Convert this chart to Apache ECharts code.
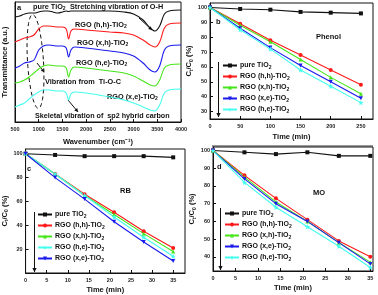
<!DOCTYPE html>
<html><head><meta charset="utf-8">
<script src="https://cdn.jsdelivr.net/npm/echarts@6/dist/echarts.min.js"></script>
<style>html,body{margin:0;padding:0;background:#fff}#c{width:378px;height:295px}</style>
</head><body><div id="c"></div>
<script>
// ---------- Panel a : FTIR ----------
const wavenumbers = [500,600,700,800,900,1000,1100,1200,1300,1400,1500,1580,1630,1680,1750,2000,2500,2800,3000,3200,3350,3450,3550,3650,3750,4000];
const ftirPure = [105,106,108,109,109,110,111,111,110,109,110,111,110.5,111,111,111,111,110,108,102,94,91,96,108,111,112];
const ftirHH   = [80,82,84,85,87,93,96,96,95.5,95,95,93,83,91,93,92,90,89,87,82,77,75,80,94,98,99];
const ftirXH   = [54,56,59,60,62,72,76,77,76.5,76,76,74,65,72,75,74,71,69,66,59,52,50,56,72,76,77];
const ftirHE   = [39,40,42,45,49,53,56,57,56.5,56,56,54,45,52,55,54,51,49,46,41,37,36,42,54,57,58];
const ftirXE   = [15,17,19,23,27,30,32,32,31.5,31,31,29,22,28,30,29,25,22,19,15,12,11,17,29,32,33];
const wnTicks = [500,1000,1500,2000,2500,3000,3500,4000];

// ---------- Panel b : Phenol ----------
const phenolTime = [0,50,100,150,200,250];
const phenolPure = [100,99,98.5,97,96.5,96];
const phenolHH = [100,89,78,68,58,48];
const phenolXH = [100,88,77,65,53,42];
const phenolXE = [100,86,73,61,50,39];
const phenolHE = [100,85,72,58,47,36];
const phenolYTicks = [30,40,50,60,70,80,90,100];

// ---------- Panel c : RB ----------
const rbTime = [0,7,14,21,28,35];
const rbPure = [100,99,98,98,98,97];
const rbHH = [100,83,66,51,35,21];
const rbXH = [100,83,65,49,33,18];
const rbHE = [100,83,65,47,30,14];
const rbXE = [100,80,62,43,26,10];
const rbYTicks = [20,40,60,80,100];

// ---------- Panel d : MO ----------
const moTime = [0,7,14,21,28,35];
const moPure = [100,99,98,99,97,97];
const moHH = [100,86,73,61,49,40];
const moXH = [100,85,71,60,48,37];
const moXE = [100,84,70,60,48,36];
const moHE = [100,82,68,57,46,34];
const moYTicks = [40,50,60,70,80,90,100];
const timeTicks = [0,5,10,15,20,25,30,35];

const NAMES = ['pure TiO2','RGO (h,h)-TiO2','RGO (x,h)-TiO2','RGO (x,e)-TiO2','RGO (h,e)-TiO2'];
const COLORS = {'pure TiO2':'#111111','RGO (h,h)-TiO2':'#ff1a1a','RGO (x,h)-TiO2':'#44e61a','RGO (x,e)-TiO2':'#1a1aee','RGO (h,e)-TiO2':'#44ffee'};
const STAR = 'path://M5,0 L6.2,3.6 L10,3.6 L7,5.9 L8.1,9.5 L5,7.3 L1.9,9.5 L3,5.9 L0,3.6 L3.8,3.6 Z';
const SYMBOLS = {'pure TiO2':'rect','RGO (h,h)-TiO2':'circle','RGO (x,h)-TiO2':'triangle','RGO (x,e)-TiO2':'path://M0,0 L10,0 L5,9 Z','RGO (h,e)-TiO2':STAR};

const FONT = '"Liberation Sans", Arial, sans-serif';
const subRich = {
  n:{fontFamily:FONT,fontWeight:'bold',fontSize:7,color:'#111',lineHeight:9},
  s:{fontFamily:FONT,fontWeight:'bold',fontSize:5,color:'#111',lineHeight:9,verticalAlign:'bottom',padding:[3,0,0,0]}
};
function subText(name){ return name.replace(/TiO2/,'TiO{s|2}').replace(/^([^{]*)/, '{n|$1}').replace(/\{s\|2\}(.*)$/, (m,r)=>'{s|2}'+(r?'{n|'+r+'}':'')); }

function xAxisBase(grid, min, max, ticks, name, gap){
  return {gridIndex:grid,type:'value',min:min,max:max,name:name,nameLocation:'middle',nameGap:gap,
    nameTextStyle:{fontFamily:FONT,fontWeight:'bold',fontSize:7.5,color:'#111'},
    axisLine:{lineStyle:{color:'#111',width:1}},
    axisTick:{inside:true,length:3,customValues:ticks,lineStyle:{color:'#111'}},
    axisLabel:{customValues:ticks,formatter:v=>String(v),fontFamily:FONT,fontWeight:'bold',fontSize:5.5,color:'#222',margin:4},
    splitLine:{show:false}};
}
function yAxisBase(grid, min, max, ticks, name, gap, showLabels){
  return {gridIndex:grid,type:'value',min:min,max:max,name:name,nameLocation:'middle',nameGap:gap,
    nameTextStyle:{fontFamily:FONT,fontWeight:'bold',fontSize:7.5,color:'#111',rich:{
      n:{fontFamily:FONT,fontWeight:'bold',fontSize:7.5,color:'#111'},
      s:{fontFamily:FONT,fontWeight:'bold',fontSize:5,color:'#111',padding:[4,0,0,0]}}},
    axisLine:{lineStyle:{color:'#111',width:1}},
    axisTick:{show:!!ticks,inside:true,length:3,customValues:ticks||undefined,lineStyle:{color:'#111'}},
    axisLabel:{show:showLabels,customValues:ticks||undefined,formatter:v=>String(v),fontFamily:FONT,fontWeight:'bold',fontSize:5.5,color:'#222',margin:3},
    splitLine:{show:false}};
}

const gridStyle = {show:true,borderColor:'#111',borderWidth:1,backgroundColor:'transparent',containLabel:false};
const grids = [
  Object.assign({left:13,top:2,width:168,height:120},gridStyle),
  Object.assign({left:210,top:3,width:163,height:116},gridStyle),
  Object.assign({left:22,top:149,width:163,height:127},gridStyle),
  Object.assign({left:213,top:147,width:160,height:124},gridStyle)
];
const ctName = '{n|C}{s|t}{n|/C}{s|0}{n| (%)}';

const xAxes = [
  xAxisBase(0,500,4000,wnTicks,'Wavenumber (cm⁻¹)',16),
  xAxisBase(1,0,270,[0,50,100,150,200,250],'Time (min)',14),
  xAxisBase(2,0,37.8,timeTicks,'Time (min)',13),
  xAxisBase(3,0,35.6,timeTicks,'Time (min)',13)
];
const yAxes = [
  yAxisBase(0,0,120,null,'Transmittance (a.u.)',6,false),
  yAxisBase(1,25,103,phenolYTicks,ctName,14,true),
  yAxisBase(2,0,104,rbYTicks,ctName,15,true),
  yAxisBase(3,32,102,moYTicks,ctName,15,true)
];

const series = [];
const ftirSets = [[ftirPure,'#111111'],[ftirHH,'#ff1a1a'],[ftirXH,'#1a1aee'],[ftirHE,'#44e61a'],[ftirXE,'#44ffee']];
ftirSets.forEach((s,i)=>{
  series.push({type:'line',name:'ftir'+i,xAxisIndex:0,yAxisIndex:0,showSymbol:false,smooth:0.35,
    lineStyle:{color:s[1],width:1.1},data:wavenumbers.map((w,j)=>[w,s[0][j]]),silent:true});
});
function kin(idx, time, vals, name){
  series.push({type:'line',name:name,xAxisIndex:idx,yAxisIndex:idx,symbol:SYMBOLS[name],symbolSize:name==='RGO (h,e)-TiO2'?5.5:4,
    itemStyle:{color:COLORS[name]},lineStyle:{color:COLORS[name],width:1.1},data:time.map((t,j)=>[t,vals[j]])});
}
kin(1,phenolTime,phenolPure,NAMES[0]);kin(1,phenolTime,phenolHH,NAMES[1]);kin(1,phenolTime,phenolXH,NAMES[2]);kin(1,phenolTime,phenolXE,NAMES[3]);kin(1,phenolTime,phenolHE,NAMES[4]);
kin(2,rbTime,rbPure,NAMES[0]);kin(2,rbTime,rbHH,NAMES[1]);kin(2,rbTime,rbXH,NAMES[2]);kin(2,rbTime,rbHE,NAMES[4]);kin(2,rbTime,rbXE,NAMES[3]);
kin(3,moTime,moPure,NAMES[0]);kin(3,moTime,moHH,NAMES[1]);kin(3,moTime,moXH,NAMES[2]);kin(3,moTime,moXE,NAMES[3]);kin(3,moTime,moHE,NAMES[4]);

function legend(left, top, order){
  return {left:left,top:top,orient:'vertical',itemWidth:14,itemHeight:5,itemGap:3,selectedMode:false,padding:0,
    data:order,formatter:function(n){return subText(n);},
    textStyle:{fontFamily:FONT,fontWeight:'bold',fontSize:7,color:'#111',rich:subRich,padding:[0,0,0,-2]}};
}
const legends = [
  legend(222,62,[NAMES[0],NAMES[1],NAMES[2],NAMES[3],NAMES[4]]),
  legend(37,211,[NAMES[0],NAMES[1],NAMES[2],NAMES[4],NAMES[3]]),
  legend(224,210,[NAMES[0],NAMES[1],NAMES[2],NAMES[3],NAMES[4]])
];

// annotations
function txt(x,y,t,size){ return {type:'text',left:x,top:y,silent:true,style:{text:t,font:'bold '+(size||7)+'px '+FONT,fill:'#111',rich:{
  n:{fontFamily:FONT,fontWeight:'bold',fontSize:size||7,fill:'#111'},
  s:{fontFamily:FONT,fontWeight:'bold',fontSize:5,fill:'#111',padding:[4,0,0,0]}}}}; }
function arrow(x1,y1,x2,y2,hs){
  hs = hs||3.5;
  const a = Math.atan2(y2-y1,x2-x1);
  const p1=[x2-hs*Math.cos(a)+hs*0.55*Math.sin(a), y2-hs*Math.sin(a)-hs*0.55*Math.cos(a)];
  const p2=[x2-hs*Math.cos(a)-hs*0.55*Math.sin(a), y2-hs*Math.sin(a)+hs*0.55*Math.cos(a)];
  return [{type:'line',silent:true,shape:{x1:x1,y1:y1,x2:x2,y2:y2},style:{stroke:'#111',lineWidth:1}},
          {type:'polygon',silent:true,shape:{points:[[x2,y2],p1,p2]},style:{fill:'#111'}}];
}
const ell = [];
for(let k=0;k<=60;k++){const t=k/60*2*Math.PI;const th=0.06;const ax=8,ay=47;
  const ex=ax*Math.cos(t), ey=ay*Math.sin(t);
  ell.push([35.5+ex*Math.cos(th)+ey*Math.sin(th), 61.5+ey*Math.cos(th)]);}
const graphics = [
  txt(17,4,'{n|a}',7.5),
  txt(33,3,'{n|pure TiO}{s|2}',7.3),
  txt(70,3,'{n|Stretching vibration of O-H}',7.3),
  txt(75,21,'{n|RGO (h,h)-TiO}{s|2}',7.3),
  txt(77,39,'{n|RGO (x,h)-TiO}{s|2}',7.3),
  txt(76,59,'{n|RGO (h,e)-TiO}{s|2}',7.3),
  txt(45,78,'{n|Vibration from  Ti-O-C}',7.3),
  txt(107,93,'{n|RGO (x,e)-TiO}{s|2}',7.3),
  txt(35,113,'{n|Skeletal vibration of  sp2 hybrid carbon}',7.2),
  {type:'polyline',silent:true,shape:{points:ell},style:{stroke:'#111',lineWidth:1,lineDash:[4,3],fill:null}},
  ...arrow(139,18,152,30),
  ...arrow(37,63,44,72,3),
  ...arrow(68,100,78,112,3.5),
  txt(316,33,'{n|Phenol}',7.5),
  txt(216,18,'{n|b}',7.5),
  txt(120,187,'{n|RB}',7.5),
  txt(27,165,'{n|c}',7.5),
  txt(313,189,'{n|MO}',7.5),
  txt(217,163,'{n|d}',7.5),
  ...arrow(218.5,62,218.5,117,4),
  ...arrow(34.5,212,34.5,272,4),
  ...arrow(220.5,208,220.5,270,4),
  {type:'line',silent:true,shape:{x1:212,y1:146,x2:373,y2:146},style:{stroke:'#333',lineWidth:1}}
];

const chart = echarts.init(document.getElementById('c'),null,{renderer:'canvas'});
chart.setOption({animation:false,backgroundColor:'#fff',grid:grids,xAxis:xAxes,yAxis:yAxes,series:series,legend:legends,graphic:graphics});
</script></body></html>
